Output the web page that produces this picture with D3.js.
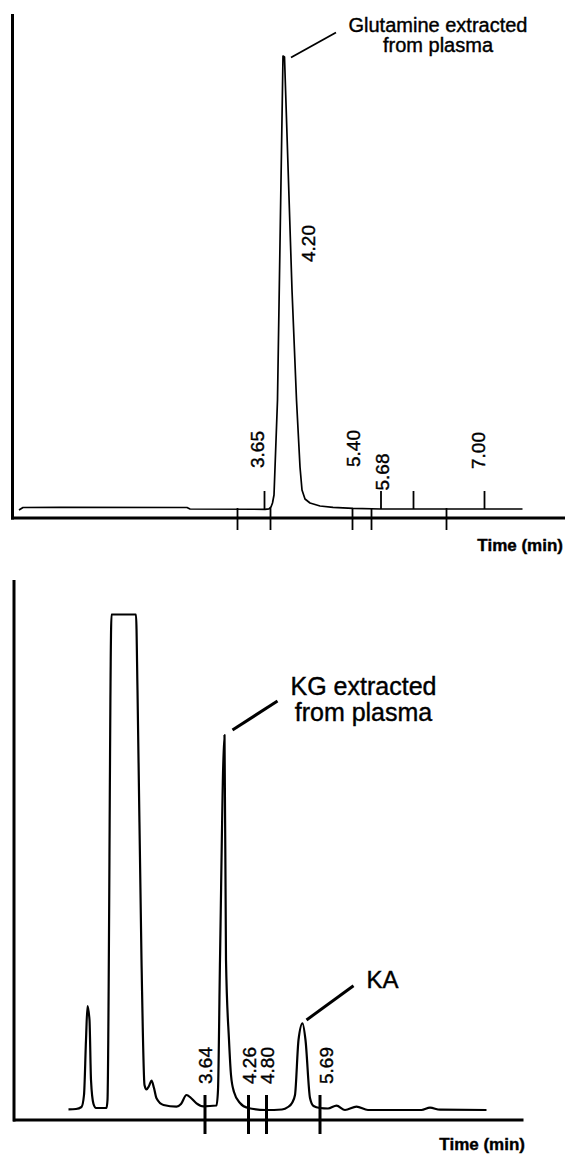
<!DOCTYPE html>
<html>
<head>
<meta charset="utf-8">
<script src="https://cdn.jsdelivr.net/npm/d3@7"></script>
<style>
body { margin: 0; background: #fff; }
text { font-family: "Liberation Sans", Arial, Helvetica, sans-serif; fill: #000; stroke: #000; stroke-width: 0.4px; }
</style>
</head>
<body>
<div id="chromatogram"></div>
<script>

/* upper run: glutamine extracted from plasma (time in min, response in arbitrary units) */
var glnTime   = [0.14, 0.22, 0.96, 3.50, 3.56, 5.06, 5.14, 5.18, 5.21, 5.24, 5.31, 5.42, 5.45, 5.60, 5.69, 5.76, 5.80, 5.86, 5.96, 6.16, 6.42, 6.82, 7.38, 10.21];
var glnSignal = [1.6, 2.1, 2.14, 2.1, 1.8, 1.74, 1.84, 2.2, 3.0, 4.6, 23.6, 92.4, 92.2, 45.6, 23.6, 10.2, 5.6, 3.8, 3.0, 2.4, 2.14, 1.94, 1.8, 1.8];
var glnMarksBelow = [4.51, 5.17, 6.81, 7.19, 8.69];
var glnMarksAbove = [5.05, 7.38, 8.03, 9.45];
var glnLabels      = ["3.65", "4.20", "5.40", "5.68", "7.00"];
var glnLabelTime   = [5.03, 6.06, 6.95, 7.53, 9.45];
var glnLabelSignal = [10.0, 51.2, 10.2, 5.5, 9.8];

/* lower run: KG and KA */
var kgTime   = [1.13, 1.28, 1.39, 1.44, 1.48, 1.51, 1.55, 1.58, 1.63, 1.68, 1.89, 1.91, 1.99, 2.48, 2.51, 2.59, 2.65, 2.69, 2.74, 2.79, 2.84, 2.89, 3.03, 3.29, 3.38, 3.49, 3.58, 3.69, 3.83, 4.09, 4.12, 4.16, 4.25, 4.28, 4.34, 4.38, 4.44, 4.56, 4.72, 5.08, 5.40, 5.52, 5.60, 5.66, 5.73, 5.81, 5.87, 5.96, 6.03, 6.16, 6.32, 6.49, 6.66, 6.89, 7.12, 8.19, 8.36, 8.56, 9.49];
var kgSignal = [2.14, 2.2, 2.6, 5.0, 16, 22.8, 20, 8, 3.2, 2.4, 2.4, 4.0, 101.1, 101.1, 86, 32, 7, 6.1, 6.8, 7.86, 6.4, 4.34, 3.0, 2.66, 3.2, 5.0, 4.4, 3.34, 2.74, 2.9, 6, 32, 77, 32, 16, 9, 5.6, 3.4, 2.4, 2.0, 2.1, 2.6, 3.4, 5.0, 16, 19.34, 16, 4.4, 2.8, 2.4, 2.3, 2.86, 2.0, 2.66, 2.0, 2.0, 2.46, 2.06, 2.0];
var kgMarks = [3.86, 4.73, 5.09, 6.16];
var kgLabels      = ["3.64", "4.26", "4.80", "5.69"];
var kgLabelTime   = [4.0, 4.88, 5.24, 6.42];
var kgLabelSignal = [7.2, 7.2, 7.2, 7.2];

var svg = d3.select("#chromatogram").append("svg")
        .attr("width", 565)
        .attr("height", 1155);

var x = d3.scaleLinear().domain([0, 11.06]).range([12, 565]);
var yTop = d3.scaleLinear().domain([0, 100]).range([518, 18]);
var yBot = d3.scaleLinear().domain([0, 108]).range([1120, 580]);

function seg(g, x1, y1, x2, y2, w) {
    g.append("line")
            .attr("x1", x1).attr("y1", y1)
            .attr("x2", x2).attr("y2", y2)
            .attr("stroke", "#000")
            .attr("stroke-width", w);
}

function trace(g, y, times, signal, w, curve) {
    var pts = times.map(function (t, i) {
        return [t, signal[i]];
    });
    var line = d3.line()
            .x(function (d) { return x(d[0]); })
            .y(function (d) { return y(d[1]); })
            .curve(curve);
    g.append("path")
            .attr("d", line(pts))
            .attr("fill", "none")
            .attr("stroke", "#000")
            .attr("stroke-width", w)
            .attr("stroke-linejoin", "round");
}

function peakLabels(g, y, labels, times, signal, size) {
    g.selectAll("text.rt")
            .data(labels)
            .enter().append("text")
            .attr("class", "rt")
            .attr("transform", function (d, i) {
                return "translate(" + x(times[i]) + "," + y(signal[i]) + ") rotate(-90)";
            })
            .attr("font-size", size)
            .text(function (d) { return d; });
}

function note(g, y, lines, t, v, size, gap, anchor) {
    var txt = g.append("text")
            .attr("font-size", size)
            .attr("text-anchor", anchor);
    lines.forEach(function (s, i) {
        txt.append("tspan")
                .attr("x", x(t))
                .attr("y", y(v) + i * gap)
                .text(s);
    });
}

/* ---- upper panel ---- */
var upper = svg.append("g");

seg(upper, x(0.01), yTop(100.8), x(0.01), yTop(-0.3), 3);
seg(upper, x(-0.02), yTop(0), x(11.06), yTop(0), 3);

glnMarksBelow.forEach(function (t) {
    seg(upper, x(t), yTop(2), x(t), yTop(-2.4), 1.8);
});
glnMarksAbove.forEach(function (t) {
    seg(upper, x(t), yTop(5.4), x(t), yTop(1.8), 1.8);
});

trace(upper, yTop, glnTime, glnSignal, 1.7, d3.curveLinear);
peakLabels(upper, yTop, glnLabels, glnLabelTime, glnLabelSignal, "19px");

seg(upper, x(5.58), yTop(92.1), x(6.48), yTop(97.1), 1.8);
note(upper, yTop, ["Glutamine extracted", "from plasma"], 8.52, 97.26, "20px", 20, "middle");

upper.append("text")
        .attr("x", 563).attr("y", 551)
        .attr("text-anchor", "end")
        .attr("font-size", "17px")
        .attr("font-weight", "bold")
        .text("Time (min)");

/* ---- lower panel ---- */
var lower = svg.append("g");

seg(lower, x(0.04), yBot(108), x(0.04), yBot(-0.3), 3);
seg(lower, x(0.02), yBot(0), x(10.23), yBot(0), 3);

kgMarks.forEach(function (t) {
    seg(lower, x(t), yBot(5), x(t), yBot(-2.8), 3);
});

trace(lower, yBot, kgTime, kgSignal, 2.2, d3.curveMonotoneX);
peakLabels(lower, yBot, kgLabels, kgLabelTime, kgLabelSignal, "19px");

seg(lower, x(4.41), yBot(78), x(5.31), yBot(83.8), 3);
note(lower, yBot, ["KG extracted", "from plasma"], 7.03, 85, "25px", 26, "middle");

seg(lower, x(5.89), yBot(20), x(6.83), yBot(26.86), 3);
note(lower, yBot, ["KA"], 7.09, 26.46, "24px", 0, "start");

lower.append("text")
        .attr("x", 525).attr("y", 1150)
        .attr("text-anchor", "end")
        .attr("font-size", "17px")
        .attr("font-weight", "bold")
        .text("Time (min)");

</script>
</body>
</html>
